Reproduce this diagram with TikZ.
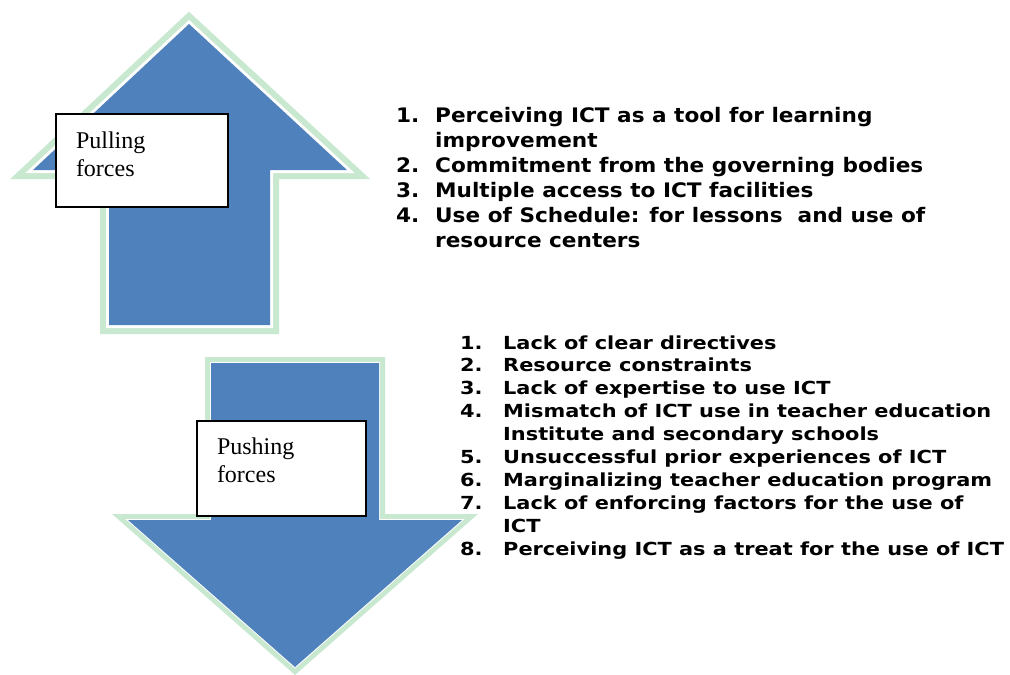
\documentclass[tikz,border=0pt]{standalone}
\usepackage{fontspec}
\setmainfont{Liberation Serif}
\newfontfamily\pulllistfont[FakeStretch=1.08]{DejaVu Sans}
\newfontfamily\pushlistfont[FakeStretch=1.16]{DejaVu Sans}
\usepackage{array}
\definecolor{forceblue}{RGB}{79,129,189}
\definecolor{forcegreen}{RGB}{200,232,208}
\tikzset{force/.style 2 args={fill=forceblue, preaction={draw=forcegreen, line width=#1}, preaction={draw=white, line width=#2}}}
\tikzstyle{forcebox} = [rectangle, draw=black, line width=1.2pt, fill=white, align=left, inner xsep=20pt, font=\fontsize{24}{28}\selectfont]
\tikzstyle{factors} = [inner sep=0pt, anchor=base west]

\begin{document}
\begin{tikzpicture}[x=1pt,y=-1pt]
\useasboundingbox (0,0) rectangle (1010,675);

% up and down arrows
\path [force={18pt}{6pt}] (109,325) -- (109,170) -- (33,170) -- (189,24) -- (347,170) -- (270,170) -- (270,325) -- cycle;
\path [force={12pt}{2pt}] (211,363) -- (379,363) -- (379,520) -- (462,520) -- (295,667) -- (128,520) -- (211,520) -- cycle;

\node (pulling) [forcebox, minimum width=172pt, minimum height=93pt, text width=132pt] at (142,160.5) {Pulling\\forces\\[-16pt]\mbox{}};
\node (pushing) [forcebox, minimum width=169pt, minimum height=95pt, text width=129pt] at (281.5,468.5) {Pushing\\forces\\[-12pt]\mbox{}};

\node (pulllist) [factors, font=\pulllistfont\bfseries\fontsize{20}{25}\selectfont] at (396,122) {\begin{tabular}[t]{@{}p{39pt}@{}l@{}}
1. & Perceiving ICT as a tool for learning\\
   & improvement\\
2. & Commitment from the governing bodies\\
3. & Multiple access to ICT facilities\\
4. & Use of Schedule: for lessons\ \ and use of\\
   & resource centers
\end{tabular}};

\node (pushlist) [factors, font=\pushlistfont\bfseries\fontsize{18}{22.9}\selectfont] at (460,349) {\begin{tabular}[t]{@{}p{43pt}@{}l@{}}
1. & Lack of clear directives\\
2. & Resource constraints\\
3. & Lack of expertise to use ICT\\
4. & Mismatch of ICT use in teacher education\\
   & Institute and secondary schools\\
5. & Unsuccessful prior experiences of ICT\\
6. & Marginalizing teacher education program\\
7. & Lack of enforcing factors for the use of\\
   & ICT\\
8. & Perceiving ICT as a treat for the use of ICT
\end{tabular}};
\end{tikzpicture}
\end{document}
